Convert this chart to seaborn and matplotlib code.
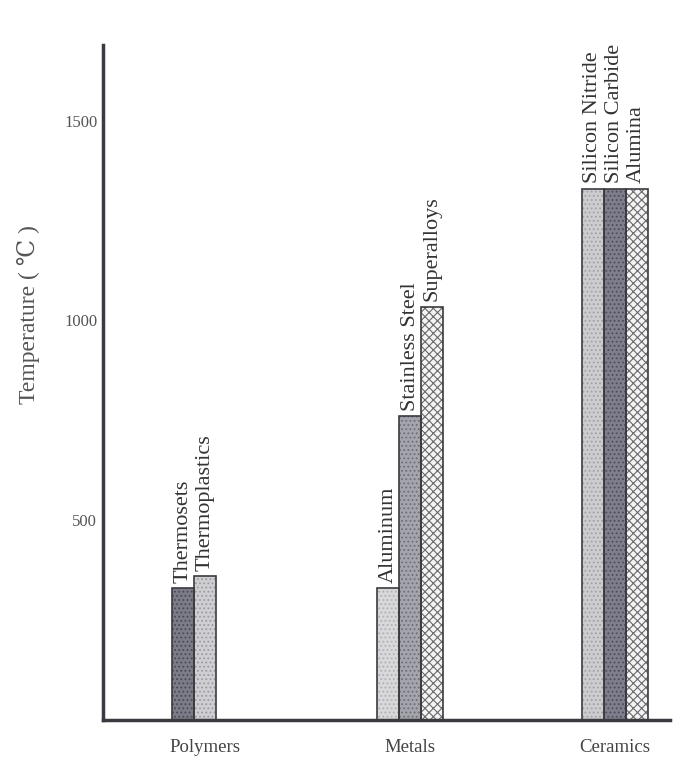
import matplotlib
matplotlib.use("Agg")
import matplotlib.pyplot as plt
import seaborn as sns
import pandas as pd

groups = ["Polymers", "Metals", "Ceramics"]
materials = ["Thermosets", "Thermoplastics", "Aluminum", "Stainless Steel", "Superalloys",
             "Silicon Nitride", "Silicon Carbide", "Alumina"]
material_group = ["Polymers", "Polymers", "Metals", "Metals", "Metals",
                  "Ceramics", "Ceramics", "Ceramics"]
temps = [330, 360, 330, 760, 1035, 1330, 1330, 1330]
yticks = [500, 1000, 1500]

df = pd.DataFrame({"group": material_group, "material": materials, "temp": temps})
df["slot"] = df.groupby("group").cumcount()

# fill look for each material: (facecolor, hatch, hatch colour)
looks = {
    "Thermosets": ("#7c7c88", "....", "#4a4a55"),
    "Thermoplastics": ("#cfcfd2", "....", "#9a9aa0"),
    "Aluminum": ("#d8d8da", "....", "#b0b0b4"),
    "Stainless Steel": ("#a4a4ac", "....", "#6e6e78"),
    "Superalloys": ("#f4f4f4", "xxxx", "#6a6a6a"),
    "Silicon Nitride": ("#cdcdd0", "....", "#a0a0a6"),
    "Silicon Carbide": ("#7e7e8c", "....", "#4c4c5a"),
    "Alumina": ("#f4f4f4", "xxxx", "#6a6a6a"),
}

serif = ["Liberation Serif", "DejaVu Serif", "DejaVu Sans"]
sns.set_style("white")
plt.rcParams["font.family"] = serif
plt.rcParams["hatch.linewidth"] = 0.8

fig = plt.figure(figsize=(6.81, 7.61), dpi=100)
ax = fig.add_axes([0.151, 0.054, 0.833, 0.887])

sns.barplot(data=df, x="group", y="temp", hue="slot", order=groups,
            dodge=True, width=0.32, gap=0, legend=False, ax=ax,
            palette=["#cccccc"] * 3, saturation=1)

for slot, cont in zip(sorted(df["slot"].unique()), ax.containers):
    sub = df[df["slot"] == slot].copy()
    sub["g"] = sub["group"].map(groups.index)
    sub = sub.sort_values("g")
    for bar, (_, row) in zip(cont, sub.iterrows()):
        fc, hatch, hc = looks[row["material"]]
        bar.set_facecolor(fc)
        bar.set_hatch(hatch)
        bar.set_edgecolor(hc)
        bar.set_linewidth(0)
        x0, w, h = bar.get_x(), bar.get_width(), bar.get_height()
        ax.add_patch(plt.Rectangle((x0, 0), w, h, fill=False,
                                   edgecolor="#3a3a40", linewidth=1.2))
        ax.text(x0 + w / 2, h + 14, row["material"], rotation=90,
                ha="center", va="bottom", fontsize=16, color="#333333",
                family=serif)

ax.set_ylim(0, 1690)
ax.set_xlim(-0.50, 2.27)
ax.set_yticks(yticks)
ax.set_yticklabels([str(t) for t in yticks], fontsize=12, color="#555555")
ax.set_xticks(range(len(groups)))
ax.set_xticklabels(groups, fontsize=13.5, color="#444444")
ax.tick_params(axis="y", direction="in", length=8, width=1.5, color="#333333", pad=4)
ax.tick_params(axis="x", length=0, pad=14)
ax.set_xlabel("")
ax.set_ylabel("Temperature ( \u2103 )", fontsize=17, color="#555555", labelpad=16)
ax.yaxis.set_label_coords(-0.11, 0.6)

sns.despine(ax=ax)
for side in ["left", "bottom"]:
    ax.spines[side].set_linewidth(2.5)
    ax.spines[side].set_color("#3a3a40")

fig.savefig("out.png", dpi=100)
